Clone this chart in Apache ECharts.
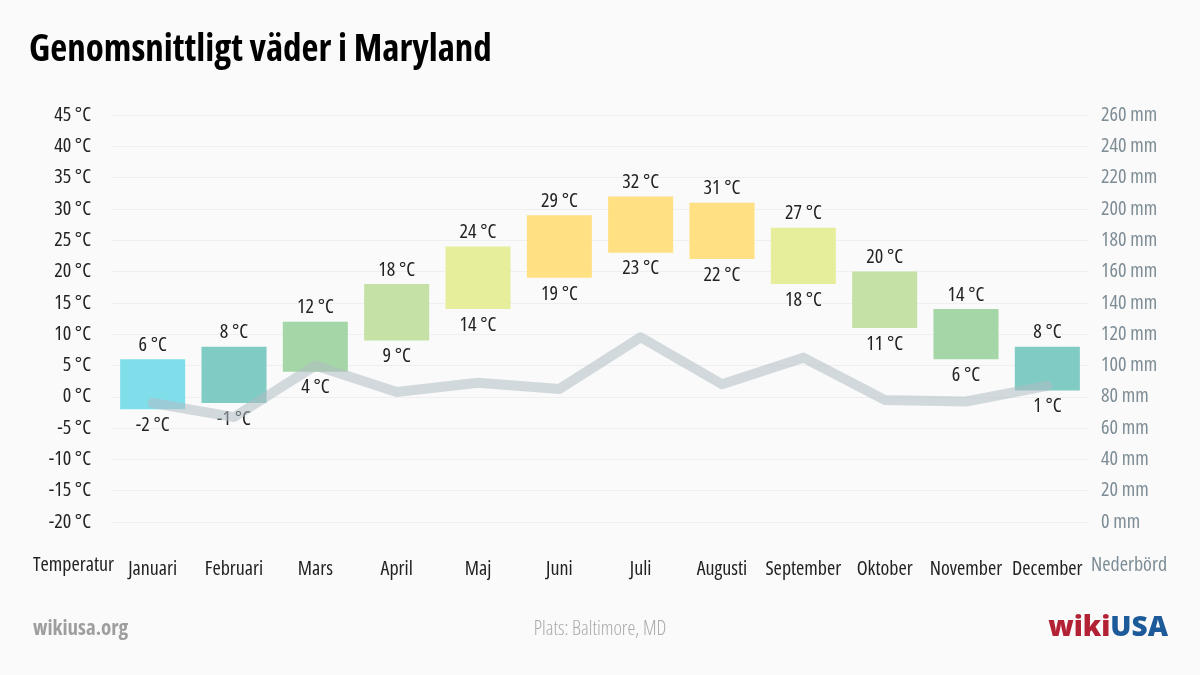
<!DOCTYPE html>
<html>
<head>
<meta charset="utf-8">
<script src="https://cdn.jsdelivr.net/npm/echarts@6/dist/echarts.min.js"></script>
<style>
  html, body { margin: 0; padding: 0; background: #fafafa; }
  #chart { width: 1200px; height: 675px; }
</style>
</head>
<body>
<div id="chart"></div>
<script>
// ---- data ----
const months = ['Januari', 'Februari', 'Mars', 'April', 'Maj', 'Juni', 'Juli', 'Augusti', 'September', 'Oktober', 'November', 'December'];
const tempHigh = [6, 8, 12, 18, 24, 29, 32, 31, 27, 20, 14, 8];
const tempLow = [-2, -1, 4, 9, 14, 19, 23, 22, 18, 11, 6, 1];
const precipitation = [76, 67, 100, 83, 89, 85, 118, 88, 105, 78, 77, 87];
const tempTicks = [-20, -15, -10, -5, 0, 5, 10, 15, 20, 25, 30, 35, 40, 45];
const precipTicks = [0, 20, 40, 60, 80, 100, 120, 140, 160, 180, 200, 220, 240, 260];

// ---- styles ----
const barColors = ['#80deea', '#80cbc4', '#a5d6a7', '#c5e1a5', '#e6ee9c', '#ffe082', '#ffe082', '#ffe082', '#e6ee9c', '#c5e1a5', '#a5d6a7', '#80cbc4'];
const FAM = "'Open Sans', sans-serif";
// weight + condensed stretch (Open Sans variable width axis)
const W = (w) => String(w) + ' condensed';

const chart = echarts.init(document.getElementById('chart'), null, { renderer: 'canvas' });

const tempData = months.map((m, i) => [i, tempLow[i], tempHigh[i]]);

const option = {
  backgroundColor: '#fafafa',
  animation: false,
  textStyle: { fontFamily: FAM },
  title: {
    text: 'Genomsnittligt väder i Maryland',
    left: 24, top: 27,
    textStyle: { fontFamily: FAM, fontWeight: W(700), fontSize: 37, color: '#000' }
  },
  grid: { left: 112, right: 112, top: 115, bottom: 153, containLabel: false },
  xAxis: {
    type: 'category',
    data: months,
    axisLine: { show: false },
    axisTick: { show: false },
    splitLine: { show: false },
    axisLabel: { interval: 0, margin: 37, fontSize: 20, color: '#222', fontFamily: FAM, fontWeight: W(400) }
  },
  yAxis: [
    {
      type: 'value',
      min: tempTicks[0], max: tempTicks[tempTicks.length - 1], interval: tempTicks[1] - tempTicks[0],
      axisLine: { show: false }, axisTick: { show: false },
      splitLine: { show: true, lineStyle: { color: '#efefef', width: 1 } },
      axisLabel: { formatter: '{value} °C', margin: 21, fontSize: 20, color: '#222', fontFamily: FAM, fontWeight: W(400) }
    },
    {
      type: 'value',
      min: precipTicks[0], max: precipTicks[precipTicks.length - 1], interval: precipTicks[1] - precipTicks[0],
      axisLine: { show: false }, axisTick: { show: false },
      splitLine: { show: false },
      axisLabel: { formatter: '{value} mm', margin: 13, fontSize: 20, color: '#7d8c95', fontFamily: FAM, fontWeight: W(400) }
    }
  ],
  graphic: [
    { type: 'text', left: 33, top: 555, style: { text: 'Temperatur', fontSize: 20, fill: '#222', fontFamily: FAM, fontWeight: W(400) } },
    { type: 'text', left: 1091, top: 555, style: { text: 'Nederbörd', fontSize: 20, fill: '#7d8c95', fontFamily: FAM, fontWeight: W(400) } },
    { type: 'text', left: 33, top: 619, style: { text: 'wikiusa.org', fontSize: 21, fill: '#9e9e9e', fontFamily: FAM, fontWeight: W(700) } },
    { type: 'text', left: 'center', top: 619, style: { text: 'Plats: Baltimore, MD', fontSize: 20, fill: '#aaaaaa', fontFamily: FAM, fontWeight: W(300) } },
    { type: 'text', right: 32, top: 614, style: { rich: { a: { fill: '#b22234', fontSize: 28, fontWeight: 800, fontFamily: FAM }, b: { fill: '#1c5a99', fontSize: 28, fontWeight: 800, fontFamily: FAM } }, text: '{a|wiki}{b|USA}' } }
  ],
  series: [
    {
      type: 'custom',
      name: 'Temperatur',
      data: tempData,
      z: 2,
      encode: { x: 0, y: [1, 2] },
      renderItem: function (params, api) {
        const i = api.value(0);
        const lo = api.value(1);
        const hi = api.value(2);
        const pTop = api.coord([i, hi]);
        const pBot = api.coord([i, lo]);
        const w = api.size([1, 0])[0] * 0.8;
        return {
          type: 'group',
          children: [
            { type: 'rect', shape: { x: pTop[0] - w / 2, y: pTop[1], width: w, height: pBot[1] - pTop[1] }, style: { fill: barColors[i] } },
            { type: 'text', x: pTop[0], y: pTop[1] - 4, style: { text: hi + ' °C', fill: '#222', fontSize: 20, fontFamily: FAM, fontWeight: W(400), align: 'center', verticalAlign: 'bottom' } },
            { type: 'text', x: pBot[0], y: pBot[1] + 6, style: { text: lo + ' °C', fill: '#222', fontSize: 20, fontFamily: FAM, fontWeight: W(400), align: 'center', verticalAlign: 'top' } }
          ]
        };
      }
    },
    {
      type: 'line',
      name: 'Nederbörd',
      yAxisIndex: 1,
      data: precipitation,
      z: 5,
      symbol: 'none',
      lineStyle: { color: '#b0bec5', width: 10, opacity: 0.55, cap: 'round', join: 'round' }
    }
  ]
};
chart.setOption(option);
</script>
</body>
</html>
